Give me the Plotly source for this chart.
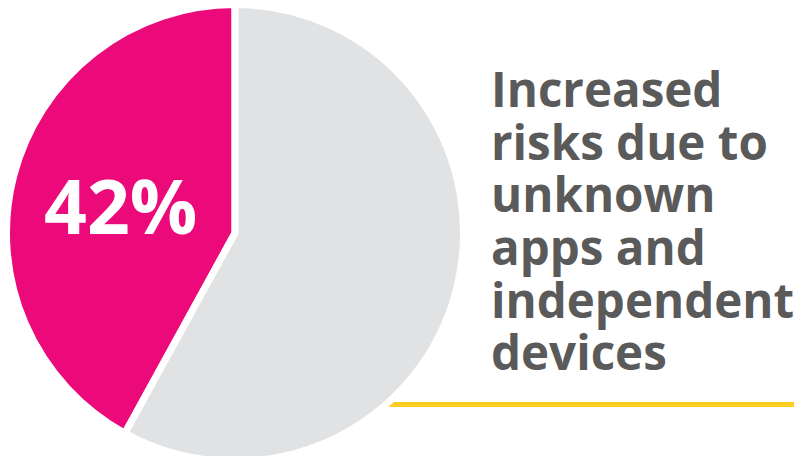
import plotly.graph_objects as go

# Share of respondents citing the risk vs. the rest
labels = ["Increased risks", "Other"]
values = [42, 58]
slice_colors = ["#EC0A7A", "#E1E2E4"]

caption_lines = ["Increased", "risks due to", "unknown", "apps and", "independent", "devices"]

W, H = 794, 462
TEXT_GRAY = "#5A5A5A"
FONT = "Open Sans"

# Highlighted slice sits just left of 12 o'clock: start it one slice-width back
start_angle = -360 * values[0] / sum(values)

fig = go.Figure(
    go.Pie(
        labels=labels,
        values=values,
        sort=False,
        direction="clockwise",
        rotation=start_angle,
        marker=dict(colors=slice_colors, line=dict(color="white", width=7)),
        textinfo="none",
        hoverinfo="label+percent",
        showlegend=False,
        domain=dict(x=[6.5 / W, 463.5 / W], y=[0.5 / H, 457.5 / H]),
    )
)


def py(top_px):
    """Convert a distance from the top edge in pixels to paper y."""
    return (H - top_px) / H


# Accent rule running out from behind the pie
fig.add_shape(
    type="line", xref="paper", yref="paper",
    x0=320 / W, x1=794 / W, y0=py(404.5), y1=py(404.5),
    line=dict(color="#FFCD22", width=5), layer="below",
)

# Percentage label on the highlighted slice
fig.add_annotation(
    text=f"<b>{values[0]}%</b>", xref="paper", yref="paper",
    x=120.5 / W, y=py(204.5), xanchor="center", yanchor="middle",
    showarrow=False, font=dict(family=FONT, size=75, color="white"),
)

# Caption block, one annotation per line for tight leading
baselines = [107, 160, 212, 265, 318, 370]
fsize = 47.5
for line, base in zip(caption_lines, baselines):
    fig.add_annotation(
        text=f"<b>{line}</b>", xref="paper", yref="paper",
        x=489 / W, y=py(base - 0.388 * fsize), xanchor="left", yanchor="middle",
        showarrow=False, font=dict(family=FONT, size=fsize, color=TEXT_GRAY),
    )

fig.update_layout(
    width=W, height=H,
    margin=dict(l=0, r=0, t=0, b=0),
    paper_bgcolor="white", plot_bgcolor="white",
)

fig.write_html(
    "out.html",
    post_script="document.documentElement.style.overflow='hidden';document.body.style.overflow='hidden';",
)
